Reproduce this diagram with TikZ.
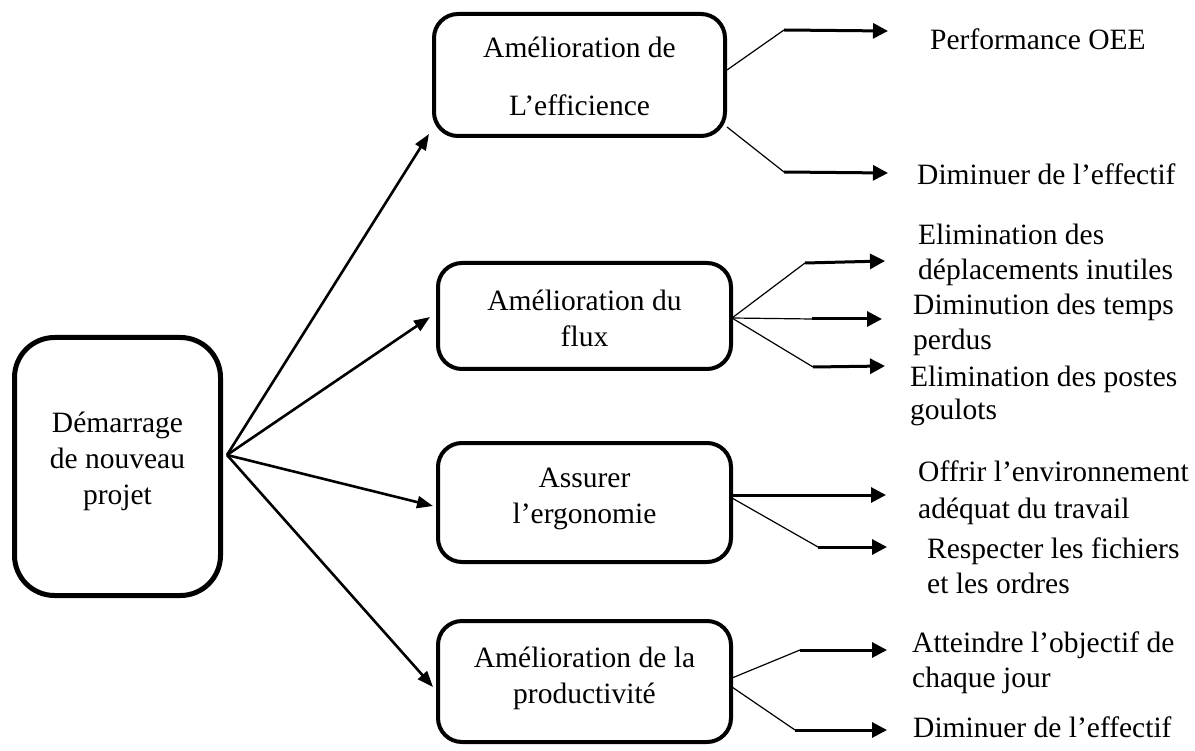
\documentclass[tikz,border=0pt]{standalone}
\usepackage{fontspec}
\setmainfont{Liberation Serif}
\usetikzlibrary{arrows.meta}
\begin{document}
\begin{tikzpicture}[x=1pt,y=-1pt,
  box/.style={draw, line width=4pt, rounded corners=24pt, inner sep=0pt},
  mainbox/.style={draw, line width=5pt, rounded corners=40pt, inner sep=0pt},
  btext/.style={font=\fontsize{29.5}{36}\selectfont, align=center, inner sep=0pt},
  lab/.style={font=\fontsize{29.5}{35}\selectfont, anchor=base west, inner sep=0pt},
  bigarrow/.style={line width=2.6pt, -{Triangle[length=16pt,width=12pt]}},
  thinline/.style={line width=1.2pt},
  tharrow/.style={line width=3pt, -{Triangle[length=15pt,width=15pt]}}
]
\useasboundingbox (0,0) rectangle (1195,751);

% boxes
\node[mainbox, minimum width=206pt, minimum height=258pt] (m) at (117.5,466.5) {};
\node[btext] (mt) at (117.5,461) {Démarrage\\de nouveau\\projet};

\node[box, minimum width=291pt, minimum height=122pt] (b1) at (579.5,75) {};
\node[btext, font=\fontsize{29.5}{58}\selectfont] (b1t) at (579.5,76) {Amélioration de\\L’efficience};

\node[box, minimum width=293pt, minimum height=106pt] (b2) at (584.5,316) {};
\node[btext] (b2t) at (584.5,318.5) {Amélioration du\\flux};

\node[box, minimum width=293pt, minimum height=119pt] (b3) at (584.5,502.5) {};
\node[btext] (b3t) at (584.5,498.5) {Assurer\\l’ergonomie};

\node[box, minimum width=293pt, minimum height=121pt] (b4) at (584.5,681.5) {};
\node[btext] (b4t) at (584.5,678) {Amélioration de la\\productivité};

% main arrows
\coordinate (hub) at (227,455);
\coordinate (e1) at (429,134);
\coordinate (e2) at (430,317);
\coordinate (e3) at (433,506);
\coordinate (e4) at (433,687);
\draw[bigarrow] (hub) -- (e1);
\draw[bigarrow] (hub) -- (e2);
\draw[bigarrow] (hub) -- (e3);
\draw[bigarrow] (hub) -- (e4);

% branch coordinates
\coordinate (s1a) at (727,70);   \coordinate (k1a) at (784,30);  \coordinate (t1a) at (888,31);
\coordinate (s1b) at (727,127);  \coordinate (k1b) at (784,172); \coordinate (t1b) at (888,173);
\coordinate (s2) at (732,318);
\coordinate (k2a) at (805,263);  \coordinate (t2a) at (885,261);
\coordinate (k2b) at (812,319);  \coordinate (t2b) at (882,319);
\coordinate (k2c) at (813,367);  \coordinate (t2c) at (885,366);
\coordinate (s3a) at (732,495);  \coordinate (t3a) at (886,495);
\coordinate (s3b) at (732,498);  \coordinate (k3b) at (818,547); \coordinate (t3b) at (887,547);
\coordinate (s4a) at (732,678);  \coordinate (k4a) at (800,650); \coordinate (t4a) at (887,650);
\coordinate (s4b) at (732,687);  \coordinate (k4b) at (795,730); \coordinate (t4b) at (887,730);

\draw[thinline] (s1a) -- (k1a); \draw[tharrow] (k1a) -- (t1a);
\draw[thinline] (s1b) -- (k1b); \draw[tharrow] (k1b) -- (t1b);
\draw[thinline] (s2) -- (k2a);  \draw[tharrow] (k2a) -- (t2a);
\draw[thinline] (s2) -- (k2b);  \draw[tharrow] (k2b) -- (t2b);
\draw[thinline] (s2) -- (k2c);  \draw[tharrow] (k2c) -- (t2c);
\draw[tharrow] (s3a) -- (t3a);
\draw[thinline] (s3b) -- (k3b); \draw[tharrow] (k3b) -- (t3b);
\draw[thinline] (s4a) -- (k4a); \draw[tharrow] (k4a) -- (t4a);
\draw[thinline] (s4b) -- (k4b); \draw[tharrow] (k4b) -- (t4b);

% labels
\node[lab] (l1) at (930,50) {Performance OEE};
\node[lab] (l2) at (917,185) {Diminuer de l’effectif};
\node[lab] (l3a) at (918,245) {Elimination des};
\node[lab] (l3b) at (918,280) {déplacements inutiles};
\node[lab] (l4a) at (913,315) {Diminution des temps};
\node[lab] (l4b) at (913,350) {perdus};
\node[lab] (l5a) at (910,387) {Elimination des postes};
\node[lab] (l5b) at (910,420) {goulots};
\node[lab] (l6a) at (918,482) {Offrir l’environnement};
\node[lab] (l6b) at (918,518) {adéquat du travail};
\node[lab] (l7a) at (927,558) {Respecter les fichiers};
\node[lab] (l7b) at (927,593) {et les ordres};
\node[lab] (l8a) at (912,652) {Atteindre l’objectif de};
\node[lab] (l8b) at (912,687) {chaque jour};
\node[lab] (l9) at (913,737) {Diminuer de l’effectif};
\end{tikzpicture}
\end{document}
